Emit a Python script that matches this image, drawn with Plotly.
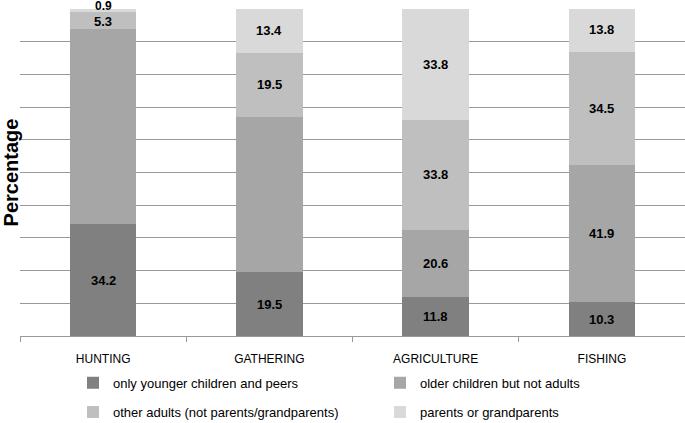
import plotly.graph_objects as go

categories = ["HUNTING", "GATHERING", "AGRICULTURE", "FISHING"]
series_names = [
    "only younger children and peers",
    "older children but not adults",
    "other adults (not parents/grandparents)",
    "parents or grandparents",
]
younger_peers = [34.2, 19.5, 11.8, 10.3]
older_children = [59.6, 47.6, 20.6, 41.9]
other_adults = [5.3, 19.5, 33.8, 34.5]
parents_grand = [0.9, 13.4, 33.8, 13.8]
# whether each value label is printed in the original chart
shown_younger = [True, True, True, True]
shown_older = [False, False, True, True]
shown_other = [True, True, True, True]
shown_parents = [True, True, True, True]

series_values = [younger_peers, older_children, other_adults, parents_grand]
series_shown = [shown_younger, shown_older, shown_other, shown_parents]
colors = ["#808080", "#a6a6a6", "#bfbfbf", "#d9d9d9"]
legend_ids = ["legend", "legend", "legend2", "legend2"]

FONT = "Liberation Sans"

fig = go.Figure()
for name, vals, col, lg in zip(series_names, series_values, colors, legend_ids):
    fig.add_trace(go.Bar(
        x=categories, y=vals, name=name,
        marker=dict(color=col, line=dict(width=0)),
        cliponaxis=False,
        legend=lg,
        hoverinfo="skip",
    ))

# value labels centred in each stacked segment (data coordinates)
base = [0.0] * len(categories)
for vals, shown in zip(series_values, series_shown):
    for i, (cat, v, s) in enumerate(zip(categories, vals, shown)):
        if s:
            tiny = v < 2
            small = 2 <= v < 8
            fig.add_annotation(
                x=cat, y=base[i] + v / 2, xref="x", yref="y",
                text=f"<b>{v:.1f}</b>", showarrow=False,
                yshift=4 if tiny else (-1 if small else 0),
                borderpad=0,
                font=dict(family=FONT, size=12 if tiny else 13, color="#000000"),
            )
        base[i] += v

fig.update_layout(
    width=685, height=423,
    barmode="stack", bargap=0.6,
    paper_bgcolor="white", plot_bgcolor="white",
    margin=dict(l=20, r=0, t=9, b=87, autoexpand=False),
    font=dict(family=FONT, size=12, color="#000000"),
    showlegend=True,
    legend=dict(orientation="h", x=0.0797, xanchor="left", y=-0.097, yanchor="top",
                entrywidth=262, font=dict(family=FONT, size=13), traceorder="normal",
                bgcolor="rgba(0,0,0,0)"),
    legend2=dict(orientation="h", x=0.0797, xanchor="left", y=-0.187, yanchor="top",
                 entrywidth=262, font=dict(family=FONT, size=13), traceorder="normal",
                 bgcolor="rgba(0,0,0,0)"),
)
fig.update_xaxes(
    showline=True, linecolor="#999999", linewidth=1.3,
    ticks="outside", tickson="boundaries", ticklen=5, tickcolor="#999999", tickwidth=1.3,
    ticklabelstandoff=11,
    tickfont=dict(family=FONT, size=12, color="#000000"),
    showgrid=False,
)
fig.update_yaxes(
    range=[0, 100], dtick=10, showgrid=True, gridcolor="#999999", gridwidth=1.3,
    showticklabels=False, ticks="", zeroline=False, showline=False,
    title=dict(text="<b>Percentage</b>", font=dict(family=FONT, size=20, color="#000000"), standoff=0),
)

fig.write_html("out.html", config={"displayModeBar": False},
               post_script="document.body.style.margin='0';")
